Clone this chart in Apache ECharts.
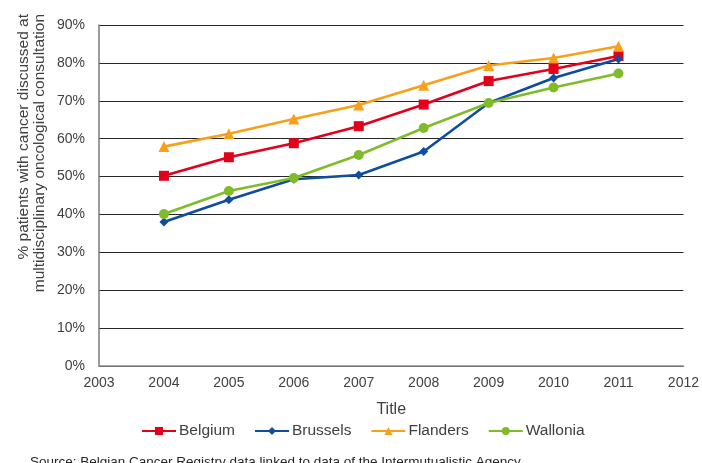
<!DOCTYPE html>
<html>
<head>
<meta charset="utf-8">
<script src="https://cdn.jsdelivr.net/npm/echarts@6/dist/echarts.min.js"></script>
<style>
  html, body { margin: 0; padding: 0; background: #fff; }
  #chart { width: 702px; height: 463px; }
</style>
</head>
<body>
<div id="chart"></div>
<script>
// Share of patients discussed at a multidisciplinary oncological consultation (%)
const years = [2004, 2005, 2006, 2007, 2008, 2009, 2010, 2011];
const belgium  = [50.2, 55.1, 58.8, 63.3, 69.0, 75.2, 78.4, 81.8];
const brussels = [38.0, 43.9, 49.3, 50.4, 56.6, 69.4, 76.0, 81.0];
const flanders = [57.9, 61.3, 65.2, 68.9, 74.1, 79.3, 81.3, 84.4];
const wallonia = [40.1, 46.2, 49.6, 55.7, 62.8, 69.4, 73.5, 77.2];
const xTicks = { min: 2003, max: 2012, step: 1 };
const yTicks = { min: 0, max: 90, step: 10 };

const FONT = 'Liberation Sans, Arial, sans-serif';
const TEXT = '#404040';

function pairs(vals) { return years.map((y, i) => [y, vals[i]]); }

function lineSeries(name, vals, color, symbol, size) {
  return {
    name: name,
    type: 'line',
    data: pairs(vals),
    symbol: symbol,
    symbolSize: size,
    lineStyle: { color: color, width: 2.6 },
    itemStyle: { color: color },
    emphasis: { disabled: true },
    animation: false
  };
}

const chart = echarts.init(document.getElementById('chart'), null, { renderer: 'canvas' });
chart.setOption({
  backgroundColor: '#fff',
  textStyle: { fontFamily: FONT },
  grid: { left: 99, right: 18, top: 25, bottom: 97 },
  xAxis: {
    type: 'value',
    min: xTicks.min, max: xTicks.max, interval: xTicks.step,
    name: 'Title',
    nameLocation: 'middle',
    nameGap: 36,
    nameTextStyle: { color: TEXT, fontSize: 16, fontFamily: FONT },
    axisLine: { show: true, lineStyle: { color: '#8c8c8c', width: 1.5 } },
    axisTick: { show: false },
    splitLine: { show: false },
    axisLabel: { color: TEXT, fontSize: 14, fontFamily: FONT, margin: 10, formatter: v => String(v) }
  },
  yAxis: {
    type: 'value',
    min: yTicks.min, max: yTicks.max, interval: yTicks.step,
    axisLine: { show: true, lineStyle: { color: '#7a7a7a', width: 1.5 } },
    axisTick: { show: false },
    splitLine: { show: true, lineStyle: { color: '#262626', width: 1.2 } },
    axisLabel: { color: TEXT, fontSize: 14, fontFamily: FONT, margin: 14, formatter: v => v + '%' }
  },
  legend: {
    top: 423,
    left: 141,
    padding: 0,
    itemWidth: 34,
    itemHeight: 10,
    itemGap: 19,
    textStyle: { color: TEXT, fontSize: 15.5, fontFamily: FONT, padding: [0, 0, 0, -2] },
    data: ['Belgium', 'Brussels', 'Flanders', 'Wallonia']
  },
  graphic: [
    {
      type: 'text',
      x: 32, y: 14,
      rotation: Math.PI / 2,
      style: {
        text: '% patients with cancer discussed at\nmultidisciplinary oncological consultation',
        fill: TEXT,
        font: '15.5px ' + FONT,
        lineHeight: 16,
        align: 'right',
        verticalAlign: 'middle'
      }
    },
    {
      type: 'text',
      left: 30, top: 455,
      style: {
        text: 'Source: Belgian Cancer Registry data linked to data of the Intermutualistic Agency',
        fill: '#262626',
        font: '13.5px ' + FONT
      }
    }
  ],
  series: [
    lineSeries('Belgium', belgium, '#e2001a', 'rect', 10),
    lineSeries('Brussels', brussels, '#0f4d9e', 'diamond', 9),
    lineSeries('Flanders', flanders, '#f8a01c', 'triangle', 11),
    lineSeries('Wallonia', wallonia, '#80bc2a', 'circle', 10)
  ]
});
</script>
</body>
</html>
